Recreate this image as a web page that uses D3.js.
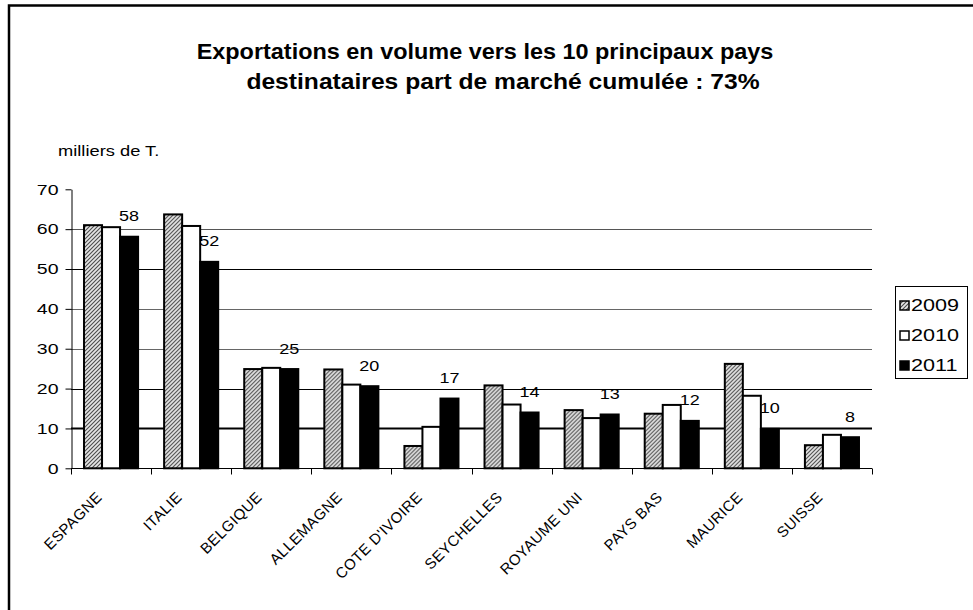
<!DOCTYPE html>
<html><head><meta charset="utf-8">
<script src="https://cdn.jsdelivr.net/npm/d3@7"></script>
<style>body{margin:0;background:#fff}svg{display:block;font-family:"Liberation Sans",Arial,sans-serif}</style>
</head><body><div id="chart"></div>
<script>
const categories = ["ESPAGNE","ITALIE","BELGIQUE","ALLEMAGNE","COTE D'IVOIRE","SEYCHELLES","ROYAUME UNI","PAYS BAS","MAURICE","SUISSE"];
const years = ["2009","2010","2011"];
const v2009 = [61.0, 63.7, 24.9, 24.8, 5.6, 20.8, 14.6, 13.7, 26.2, 5.8];
const v2010 = [60.5, 60.8, 25.2, 21.0, 10.4, 16.0, 12.6, 15.9, 18.2, 8.4];
const v2011 = [58.1, 51.8, 24.9, 20.6, 17.5, 14.0, 13.5, 11.9, 9.9, 7.8];
const labels2011 = ["58","52","25","20","17","14","13","12","10","8"];
const yTicks = [0,10,20,30,40,50,60,70];
const titleLines = ["Exportations en volume vers les 10 principaux pays","destinataires part de marché cumulée : 73%"];
const unitLabel = "milliers de T.";

const W = 973, H = 610;
const svg = d3.select("#chart").append("svg").attr("width", W).attr("height", H);

const defs = svg.append("defs");
const pat = defs.append("pattern").attr("id","hatch").attr("patternUnits","userSpaceOnUse")
  .attr("width",4).attr("height",4);
pat.append("rect").attr("width",4).attr("height",4).attr("fill","#e6e6e6");
pat.append("path").attr("d","M-1,1 l2,-2 M0,4 l4,-4 M3,5 l2,-2").attr("stroke","#4a4a4a").attr("stroke-width",1.1);

const fills = {"2009":"url(#hatch)","2010":"#fff","2011":"#000"};
const series = {"2009":v2009,"2010":v2010,"2011":v2011};

// outer frame
svg.append("rect").attr("x",9).attr("y",5.5).attr("width",1000).attr("height",1000)
  .attr("fill","none").attr("stroke","#000").attr("stroke-width",2.5);

// title
const titlePos = [[485,59,1.065],[503,89,1.12]];
svg.append("g").selectAll("text").data(titleLines).join("text")
  .attr("transform",(d,i)=>`translate(${titlePos[i][0]},${titlePos[i][1]}) scale(${titlePos[i][2]},1)`)
  .attr("text-anchor","middle").attr("font-weight","bold").attr("font-size",22)
  .text(d=>d);

svg.append("text").attr("transform","translate(58,156) scale(1.22,1)").attr("font-size",15).text(unitLabel);

const x0 = d3.scaleBand().domain(categories).range([71,872]).paddingInner(0.325).paddingOuter(0.1625);
const x1 = d3.scaleBand().domain(years).range([0,x0.bandwidth()]).padding(0);
const y = d3.scaleLinear().domain([0,70]).range([468.3,189.3]);

// gridlines (no line at the top value)
const gridStyle = {10:["#000",2],20:["#000",1],30:["#666",1],40:["#666",1],50:["#000",1],60:["#555",1]};
svg.append("g").selectAll("line").data(yTicks.filter(t=>t>0 && t<70)).join("line")
  .attr("x1",71).attr("x2",872).attr("y1",d=>Math.round(y(d))+0.5).attr("y2",d=>Math.round(y(d))+0.5)
  .attr("stroke",d=>gridStyle[d][0]).attr("stroke-width",d=>gridStyle[d][1]);

// y axis
const yAxis = svg.append("g").attr("transform","translate(71.5,0)")
  .call(d3.axisLeft(y).tickValues(yTicks).tickSize(6).tickPadding(7).tickSizeOuter(0));
yAxis.select(".domain").attr("stroke","#000");
yAxis.selectAll("line").attr("stroke","#000");
yAxis.selectAll("text").attr("font-size",15).attr("font-family","Liberation Sans, Arial, sans-serif").attr("fill","#000")
  .attr("x",0).attr("transform","translate(-13,0) scale(1.3,1)");

// bars
const data = categories.map((c,i)=>({c, vals: years.map(yr=>({yr, v: series[yr][i]}))}));
const groups = svg.append("g").selectAll("g").data(data).join("g")
  .attr("transform",d=>`translate(${x0(d.c)},0)`);
groups.selectAll("rect").data(d=>d.vals).join("rect")
  .attr("x",d=>x1(d.yr)).attr("width",x1.bandwidth())
  .attr("y",d=>y(d.v)).attr("height",d=>y(0)-y(d.v))
  .attr("fill",d=>fills[d.yr]).attr("stroke","#000").attr("stroke-width",2);

// data labels on 2011
svg.append("g").selectAll("text").data(categories).join("text")
  .attr("transform",(c,i)=>`translate(${x0(c)+x1("2011")+x1.bandwidth()/2},${y(v2011[i])-15.5}) scale(1.2,1)`)
  .attr("text-anchor","middle").attr("font-size",15).text((c,i)=>labels2011[i]);

// x axis
const step = x0.step();
const xAxis = svg.append("g").attr("transform","translate(0,468.5)");
xAxis.append("line").attr("x1",71).attr("x2",872).attr("stroke","#000");
xAxis.selectAll("line.tick").data(d3.range(categories.length+1)).join("line").attr("class","tick")
  .attr("x1",i=>Math.round(71+i*step)+0.5).attr("x2",i=>Math.round(71+i*step)+0.5)
  .attr("y1",0).attr("y2",6).attr("stroke","#000");
xAxis.selectAll("text").data(categories).join("text")
  .attr("transform",c=>`translate(${x0(c)+x0.bandwidth()/2-12},26) rotate(-45)`)
  .attr("text-anchor","end").attr("font-size",15).attr("letter-spacing",0.4).attr("dy","0.35em").text(c=>c);

// legend
const lg = svg.append("g");
lg.append("rect").attr("x",895.5).attr("y",286.5).attr("width",72).attr("height",92)
  .attr("fill","#fff").attr("stroke","#000").attr("stroke-width",1);
years.forEach((yr,i)=>{
  const yy = 302 + i*30;
  lg.append("rect").attr("x",900).attr("y",yy-1).attr("width",9).attr("height",9)
    .attr("fill",fills[yr]).attr("stroke","#000").attr("stroke-width",1.5);
  lg.append("text").attr("transform",`translate(911,${yy+9}) scale(1.35,1)`).attr("font-size",16).text(yr);
});
</script></body></html>
